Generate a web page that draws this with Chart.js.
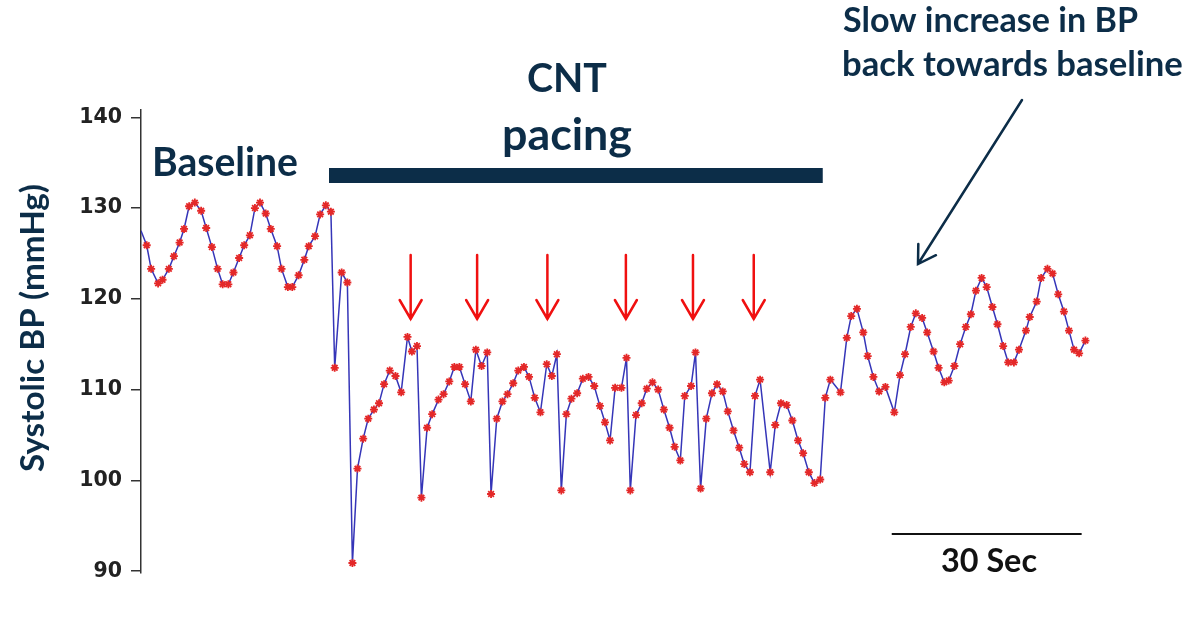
<!DOCTYPE html>
<html>
<head>
<meta charset="utf-8">
<script src="https://cdn.jsdelivr.net/npm/chart.js@4/dist/chart.umd.min.js"></script>
<style>
  html, body { margin: 0; padding: 0; background: #ffffff; }
  #wrap { width: 1190px; height: 626px; }
</style>
</head>
<body>
<div id="wrap"><canvas id="c" width="1190" height="626"></canvas></div>
<script>
// ---- data (time in seconds, systolic BP in mmHg) ----
const timeSec = [
  0.0, 0.9, 1.6, 2.7, 3.4, 4.4, 5.2, 6.1, 6.8, 7.6, 8.5, 9.5, 10.3, 11.2, 12.1, 12.9, 13.8, 14.6, 15.5, 16.3,
  17.2, 18.0, 18.8, 19.7, 20.5, 21.5, 22.2, 23.2, 23.9, 24.9, 25.8, 26.5, 27.5, 28.3, 29.2, 30.0, 30.6, 31.7, 32.6, 33.4,
  34.2, 35.1, 35.9, 36.8, 37.6, 38.4, 39.3, 40.2, 41.1, 42.1, 42.8, 43.6, 44.3, 45.2, 46.0, 47.0, 47.8, 48.7, 49.5, 50.3,
  51.2, 52.1, 52.9, 53.8, 54.7, 55.3, 56.2, 57.1, 57.9, 58.8, 59.6, 60.5, 61.3, 62.2, 63.1, 64.1, 64.9, 65.7, 66.4, 67.2,
  68.0, 68.9, 69.8, 70.7, 71.6, 72.5, 73.3, 74.1, 74.9, 75.9, 76.7, 77.3, 78.2, 79.1, 79.9, 80.8, 81.7, 82.6, 83.5, 84.3,
  85.2, 85.9, 86.9, 87.6, 88.4, 89.3, 90.2, 91.0, 91.9, 92.7, 93.6, 94.5, 95.3, 96.2, 97.0, 97.8, 99.4, 100.2, 101.1, 102.0,
  102.9, 103.8, 104.6, 105.5, 106.4, 107.3, 108.1, 108.9, 110.5, 111.5, 112.2, 113.1, 114.1, 114.8, 115.7, 116.6, 117.6, 119.0, 119.9, 120.7,
  121.6, 122.4, 123.4, 124.2, 125.2, 126.0, 126.9, 127.6, 128.5, 129.4, 130.3, 131.1, 131.9, 132.8, 133.6, 134.5, 135.3, 136.2, 137.0, 137.9,
  138.7, 139.8, 140.4, 141.5, 142.2, 143.2, 144.0, 144.9, 145.8, 146.6, 147.4, 148.2, 149.2
];
const systolicBP = [
  127.5, 125.9, 123.3, 121.7, 122.1, 123.3, 124.7, 126.2, 127.7, 130.2, 130.6, 129.7, 127.8, 125.7, 123.3, 121.6, 121.6, 122.9, 124.5, 125.9,
  127.0, 130.0, 130.6, 129.4, 127.7, 125.8, 123.3, 121.3, 121.3, 122.6, 124.3, 125.8, 126.9, 129.3, 130.3, 129.6, 112.4, 122.9, 121.8, 90.9,
  101.3, 104.6, 106.8, 107.8, 108.5, 110.6, 112.1, 111.5, 109.7, 115.8, 114.2, 114.8, 98.1, 105.8, 107.3, 108.9, 109.5, 110.9, 112.5, 112.5,
  110.6, 108.7, 114.4, 112.6, 114.1, 98.5, 106.8, 108.7, 109.5, 110.7, 112.1, 112.5, 111.4, 109.1, 107.5, 112.8, 111.5, 113.9, 98.9, 107.3,
  109.0, 109.6, 111.2, 111.4, 110.4, 108.2, 106.4, 104.4, 110.2, 110.2, 113.5, 98.9, 107.2, 108.5, 110.1, 110.8, 110.0, 107.8, 105.8, 103.7,
  102.2, 109.3, 110.4, 114.1, 99.1, 106.8, 109.6, 110.6, 109.8, 107.6, 105.5, 103.6, 101.8, 100.9, 109.3, 111.1, 100.9, 106.1, 108.5, 108.3,
  106.6, 104.4, 103.0, 100.9, 99.7, 100.1, 109.1, 111.1, 109.7, 115.7, 118.1, 118.9, 116.3, 113.7, 111.4, 109.8, 110.3, 107.5, 111.6, 113.9,
  116.9, 118.4, 117.9, 116.3, 114.2, 112.4, 110.8, 111.0, 112.6, 115.0, 116.9, 118.3, 120.9, 122.3, 121.3, 119.1, 117.2, 114.8, 113.0, 113.0,
  114.4, 116.5, 118.0, 119.7, 122.3, 123.3, 122.8, 120.5, 118.6, 116.5, 114.4, 114.0, 115.4
];
const yTickValues = [90, 100, 110, 120, 130, 140];
const pacingSpan = [29.7, 107.7];            // seconds, CNT pacing bar
const pacingArrowTimes = [42.6, 53.1, 64.2, 76.6, 87.2, 96.8]; // red arrows
const scaleBarStart = 118.6, scaleBarLength = 30; // "30 Sec" bar

// ---- styling ----
const NAVY = '#0c2d48';
const RED = '#f01010';

function fitFont(ctx, text, targetW, family, weight) {
  ctx.font = weight + ' 40px ' + family;
  const w = ctx.measureText(text).width;
  const size = 40 * targetW / w;
  ctx.font = weight + ' ' + size.toFixed(2) + 'px ' + family;
  return size;
}

const annotations = {
  id: 'annotations',
  afterDraw(chart) {
    const ctx = chart.ctx;
    const xs = chart.scales.x;
    const fam = 'Lato, "Open Sans", sans-serif';
    ctx.save();

    // y-axis title
    ctx.save();
    ctx.translate(33, 328);
    ctx.rotate(-Math.PI / 2);
    ctx.fillStyle = NAVY;
    fitFont(ctx, 'Systolic BP (mmHg)', 288, fam, 'bold');
    ctx.textAlign = 'center';
    ctx.textBaseline = 'middle';
    ctx.fillText('Systolic BP (mmHg)', 0, 0);
    ctx.restore();

    // Baseline label
    ctx.fillStyle = NAVY;
    ctx.textBaseline = 'alphabetic';
    ctx.textAlign = 'left';
    fitFont(ctx, 'Baseline', 146, fam, 'bold');
    ctx.fillText('Baseline', 152, 176);

    // CNT pacing label
    ctx.textAlign = 'center';
    fitFont(ctx, 'CNT', 80, fam, 'bold');
    ctx.fillText('CNT', 567, 92);
    fitFont(ctx, 'pacing', 130, fam, 'bold');
    ctx.fillText('pacing', 567, 150);

    // pacing bar
    const bx0 = xs.getPixelForValue(pacingSpan[0]);
    const bx1 = xs.getPixelForValue(pacingSpan[1]);
    ctx.fillStyle = NAVY;
    ctx.fillRect(bx0, 168, bx1 - bx0, 15);

    // red arrows
    ctx.strokeStyle = RED;
    ctx.lineWidth = 2.5;
    ctx.lineCap = 'round';
    pacingArrowTimes.forEach(t => {
      const x = xs.getPixelForValue(t);
      ctx.beginPath();
      ctx.moveTo(x, 255);
      ctx.lineTo(x, 319);
      ctx.moveTo(x - 11, 300);
      ctx.lineTo(x, 319);
      ctx.lineTo(x + 11, 300);
      ctx.stroke();
    });

    // annotation text top right
    ctx.fillStyle = NAVY;
    ctx.textAlign = 'left';
    fitFont(ctx, 'Slow increase in BP', 295, fam, 'bold');
    ctx.fillText('Slow increase in BP', 843, 32);
    fitFont(ctx, 'back towards baseline', 341, fam, 'bold');
    ctx.fillText('back towards baseline', 842, 76);

    // navy arrow
    const ax0 = 1022, ay0 = 100, ax1 = 918, ay1 = 264;
    ctx.strokeStyle = NAVY;
    ctx.lineWidth = 2.5;
    ctx.beginPath();
    ctx.moveTo(ax0, ay0);
    ctx.lineTo(ax1, ay1);
    const ang = Math.atan2(ay1 - ay0, ax1 - ax0);
    const hl = 20;
    ctx.moveTo(ax1 - hl * Math.cos(ang - 0.55), ay1 - hl * Math.sin(ang - 0.55));
    ctx.lineTo(ax1, ay1);
    ctx.lineTo(ax1 - hl * Math.cos(ang + 0.55), ay1 - hl * Math.sin(ang + 0.55));
    ctx.stroke();

    // 30 sec scale bar
    const sx0 = xs.getPixelForValue(scaleBarStart);
    const sx1 = xs.getPixelForValue(scaleBarStart + scaleBarLength);
    ctx.strokeStyle = '#111';
    ctx.lineWidth = 2;
    ctx.lineCap = 'butt';
    ctx.beginPath();
    ctx.moveTo(sx0, 534);
    ctx.lineTo(sx1, 534);
    ctx.stroke();
    ctx.fillStyle = '#111';
    ctx.textAlign = 'left';
    fitFont(ctx, '30 Sec', 96, fam, 'bold');
    ctx.fillText('30 Sec', 941, 572);

    ctx.restore();
  }
};

const points = timeSec.map((t, i) => ({ x: t, y: systolicBP[i] }));

new Chart(document.getElementById('c'), {
  type: 'scatter',
  data: {
    datasets: [{
      data: points,
      showLine: true,
      borderColor: '#3535b8',
      borderWidth: 1.5,
      tension: 0,
      pointStyle: 'star',
      pointRadius: ctx => ctx.dataIndex === 0 ? 0 : 4,
      pointBorderColor: '#e42828',
      pointBackgroundColor: '#e42828',
      pointBorderWidth: 1.8,
      pointHoverRadius: 4
    }]
  },
  options: {
    responsive: false,
    animation: false,
    devicePixelRatio: 1,
    layout: { padding: { top: 110, bottom: 53, right: 90, left: 0 } },
    plugins: { legend: { display: false }, tooltip: { enabled: false }, title: { display: false } },
    scales: {
      x: { type: 'linear', display: false, min: 0, max: 151.5 },
      y: {
        type: 'linear',
        min: 89.8,
        max: 140.8,
        afterFit: s => { s.width = 141; },
        afterBuildTicks: s => { s.ticks = yTickValues.map(v => ({ value: v })); },
        grid: { drawOnChartArea: false, drawTicks: true, tickLength: 10, color: '#333', lineWidth: 1.5 },
        border: { display: true, color: '#333', width: 1.5 },
        ticks: {
          padding: 9,
          color: '#222',
          font: { family: '"DejaVu Sans", sans-serif', weight: 'bold', size: 20.5 }
        }
      }
    }
  },
  plugins: [annotations]
});
</script>
</body>
</html>
